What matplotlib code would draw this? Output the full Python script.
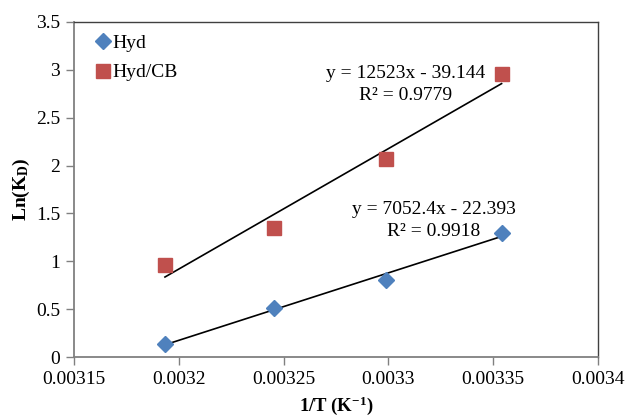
import numpy as np
import matplotlib
matplotlib.use("Agg")
import matplotlib.pyplot as plt
from matplotlib.ticker import FuncFormatter, MultipleLocator

inv_T = [0.0031934, 0.0032452, 0.0032987, 0.0033540]
hyd = [0.14, 0.51, 0.80, 1.30]
hyd_cb = [0.96, 1.35, 2.07, 2.96]
eq_hyd = ["y = 7052.4x - 22.393", "R² = 0.9918"]
eq_cb = ["y = 12523x - 39.144", "R² = 0.9779"]

plt.rcParams['font.family'] = ['Liberation Serif', 'DejaVu Serif']
plt.rcParams['mathtext.fontset'] = 'custom'
plt.rcParams['mathtext.rm'] = 'Liberation Serif'
plt.rcParams['mathtext.bf'] = 'Liberation Serif:bold'
plt.rcParams['mathtext.it'] = 'Liberation Serif:italic'

fig = plt.figure(figsize=(6.3, 4.18), dpi=100)
ax = fig.add_axes([74/630, 61/418, (598-74)/630, (357-22)/418])

x = np.array(inv_T)
for ys in (hyd, hyd_cb):
    p = np.polyfit(x, ys, 1)
    xx = np.array([x[0], x[-1]])
    ax.plot(xx, np.polyval(p, xx), color='black', lw=1.2, zorder=2)

ax.plot(inv_T, hyd, linestyle='none', marker='D', ms=8, color='#4F81BD', label='Hyd', zorder=3)
ax.plot(inv_T, hyd_cb, linestyle='none', marker='s', ms=10, color='#C0504D', label='Hyd/CB', zorder=3)

ax.set_xlim(0.00315, 0.0034)
ax.set_ylim(0, 3.5)
ax.xaxis.set_major_locator(MultipleLocator(0.00005))
ax.yaxis.set_major_locator(MultipleLocator(0.5))
fmt = FuncFormatter(lambda v, pos: ('%.5f' % v).rstrip('0').rstrip('.') if v != 0 else '0')
ax.xaxis.set_major_formatter(fmt)
ax.yaxis.set_major_formatter(fmt)
ax.tick_params(axis='both', direction='out', length=6, width=1, color='#808080', labelsize=14)
ax.tick_params(axis='x', pad=4)
ax.tick_params(axis='y', pad=4)

for s in ('left', 'bottom'):
    ax.spines[s].set_color('#808080')
    ax.spines[s].set_linewidth(1.3)
for s in ('top', 'right'):
    ax.spines[s].set_color('#404040')
    ax.spines[s].set_linewidth(1.0)

ax.set_xlabel(r'$\mathbf{1/T\ (K^{-1})}$', fontsize=13.5, labelpad=5)
ax.set_ylabel(r'$\mathbf{Ln(K_D)}$', fontsize=14, labelpad=3)

ax.legend(loc='upper left', frameon=False, fontsize=14, handletextpad=0.0,
          handlelength=1.0, labelspacing=0.6, borderaxespad=0.3, bbox_to_anchor=(0.01, 1.003))

ax.text(0.0033084, 2.967, eq_cb[0], ha='center', va='center', fontsize=14)
ax.text(0.0033084, 2.737, eq_cb[1], ha='center', va='center', fontsize=14)
ax.text(0.0033218, 1.546, eq_hyd[0], ha='center', va='center', fontsize=14)
ax.text(0.0033218, 1.306, eq_hyd[1], ha='center', va='center', fontsize=14)

fig.savefig('out.png', dpi=100)
